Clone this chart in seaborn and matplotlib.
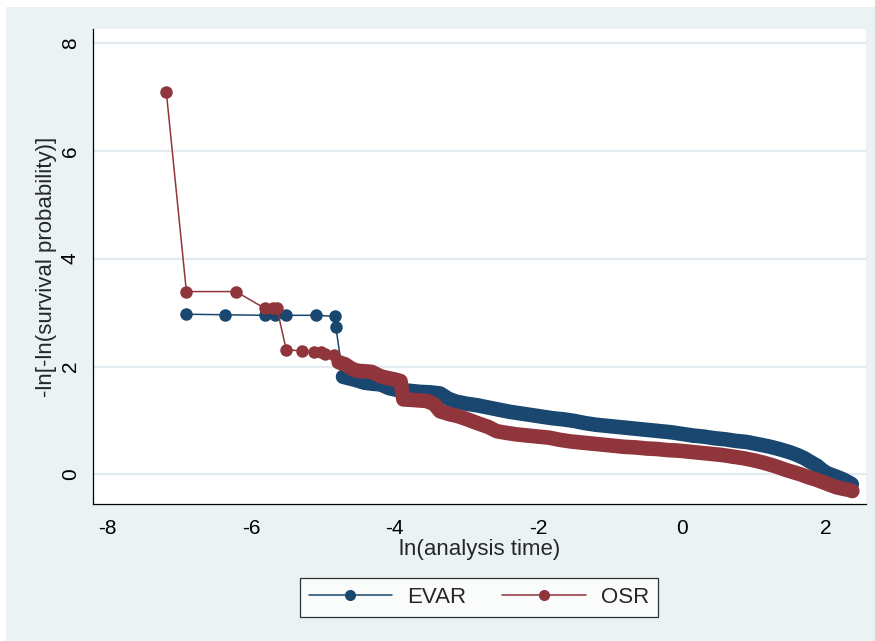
import numpy as np
import pandas as pd
import matplotlib
matplotlib.use("Agg")
import matplotlib.pyplot as plt
from matplotlib.lines import Line2D
from matplotlib.patches import Rectangle
import seaborn as sns

# ln(analysis time) / -ln[-ln(S)], EVAR group
evar_x = [-6.90, -6.36, -5.81, -5.67, -5.51, -5.09, -4.83, -4.82, -4.72, -4.57,
          -4.42, -4.30, -4.20, -4.08, -3.95, -3.80, -3.65, -3.50, -3.37, -3.25,
          -3.15, -3.00, -2.85, -2.70, -2.55, -2.40, -2.25, -2.10, -1.95, -1.80,
          -1.65, -1.50, -1.35, -1.20, -1.05, -0.90, -0.75, -0.60, -0.45, -0.30,
          -0.15, 0.00, 0.15, 0.30, 0.45, 0.60, 0.75, 0.90, 1.05, 1.20,
          1.35, 1.50, 1.60, 1.70, 1.80, 1.88, 1.95, 2.02, 2.10, 2.18,
          2.25, 2.32, 2.36]
evar_y = [2.97, 2.96, 2.95, 2.95, 2.95, 2.95, 2.93, 2.74, 1.81, 1.76,
          1.70, 1.68, 1.67, 1.60, 1.56, 1.55, 1.53, 1.52, 1.50, 1.40,
          1.35, 1.31, 1.28, 1.24, 1.20, 1.16, 1.13, 1.10, 1.07, 1.04,
          1.02, 0.99, 0.95, 0.92, 0.90, 0.88, 0.86, 0.84, 0.82, 0.80,
          0.78, 0.75, 0.72, 0.70, 0.67, 0.65, 0.62, 0.60, 0.56, 0.52,
          0.47, 0.41, 0.36, 0.30, 0.22, 0.16, 0.08, 0.02, -0.02, -0.06,
          -0.10, -0.15, -0.18]

# OSR group
osr_x = [-7.18, -6.90, -6.21, -5.81, -5.70, -5.64, -5.51, -5.29, -5.13, -5.03,
         -4.97, -4.85, -4.78, -4.69, -4.60, -4.52, -4.40, -4.32, -4.20, -4.11,
         -4.00, -3.92, -3.88, -3.75, -3.65, -3.55, -3.45, -3.37, -3.25, -3.12,
         -2.99, -2.85, -2.70, -2.58, -2.45, -2.30, -2.15, -2.00, -1.85, -1.70,
         -1.55, -1.40, -1.25, -1.10, -0.95, -0.80, -0.65, -0.50, -0.35, -0.20,
         -0.05, 0.10, 0.25, 0.40, 0.55, 0.70, 0.85, 1.00, 1.15, 1.30,
         1.45, 1.55, 1.65, 1.75, 1.85, 1.95, 2.05, 2.15, 2.25, 2.33, 2.37]
osr_y = [7.10, 3.39, 3.39, 3.08, 3.08, 3.08, 2.31, 2.29, 2.27, 2.27,
         2.23, 2.21, 2.08, 2.04, 1.96, 1.92, 1.91, 1.90, 1.82, 1.79,
         1.76, 1.73, 1.39, 1.38, 1.37, 1.36, 1.30, 1.17, 1.12, 1.08,
         1.02, 0.95, 0.88, 0.80, 0.77, 0.74, 0.72, 0.70, 0.68, 0.64,
         0.61, 0.59, 0.57, 0.55, 0.53, 0.51, 0.50, 0.48, 0.47, 0.45,
         0.44, 0.42, 0.40, 0.38, 0.36, 0.33, 0.30, 0.26, 0.21, 0.15,
         0.08, 0.04, 0.00, -0.05, -0.09, -0.14, -0.19, -0.24, -0.27, -0.29, -0.31]

groups = ["EVAR", "OSR"]
colors = {"EVAR": "#1a476f", "OSR": "#90353b"}
# where the event times get so dense that the markers merge into a band
dense_from = {"EVAR": 8, "OSR": 12}
x_ticks = [-8, -6, -4, -2, 0, 2]
y_ticks = [0, 2, 4, 6, 8]

sns.set_style("white")
plt.rcParams["font.family"] = ["Liberation Sans", "DejaVu Sans"]

fig = plt.figure(figsize=(8.75, 6.41), dpi=100, facecolor="white")
# stata-like graph region
fig.patches.append(Rectangle((6 / 875, 0), 1, 1 - 7 / 641, transform=fig.transFigure,
                             facecolor="#eaf2f3", edgecolor="none", zorder=-10))
ax = fig.add_axes([93 / 875, 1 - 504 / 641, 773 / 875, 475 / 641])
ax.set_facecolor("white")

series = {"EVAR": (evar_x, evar_y), "OSR": (osr_x, osr_y)}
for g in groups:
    xs, ys = series[g]
    i0 = dense_from[g]
    sns.lineplot(x=xs, y=ys, ax=ax, sort=False, estimator=None, color=colors[g],
                 linewidth=1.1, marker="o", markersize=9, markeredgewidth=0,
                 legend=False)
    # overlapping markers -> solid band
    sns.lineplot(x=xs[i0:], y=ys[i0:], ax=ax, sort=False, estimator=None,
                 color=colors[g], linewidth=10.5, solid_capstyle="round",
                 solid_joinstyle="round", legend=False)

ax.set_xlim(-8.2, 2.56)
ax.set_ylim(-0.55, 8.26)
ax.set_xticks(x_ticks)
ax.set_yticks(y_ticks)
ax.set_xticklabels([str(t) for t in x_ticks])
ax.set_yticklabels([str(t) for t in y_ticks])
ax.grid(axis="y", color="#e3ebee", linewidth=1.6)
ax.grid(axis="x", visible=False)
ax.set_axisbelow(True)

for s in ["top", "right"]:
    ax.spines[s].set_visible(False)
for s in ["left", "bottom"]:
    ax.spines[s].set_color("black")
    ax.spines[s].set_linewidth(0.9)

ax.tick_params(axis="both", direction="out", length=6.5, width=0.9, color="#444444",
               labelsize=15, labelcolor="black")
ax.tick_params(axis="x", pad=4)
ax.tick_params(axis="y", pad=3)
plt.setp(ax.get_yticklabels(), rotation=90, va="center", ha="right")

ax.set_xlabel("ln(analysis time)", fontsize=16)
ax.set_ylabel("-ln[-ln(survival probability)]", fontsize=16)
ax.xaxis.set_label_coords(0.5, -0.073)
ax.yaxis.set_label_coords(-0.047, 0.5)

handles = [Line2D([0], [0], color=colors[g], linewidth=1.1, marker="o", markersize=8,
                  markeredgewidth=0) for g in groups]
leg = fig.legend(handles, groups, loc="center", bbox_to_anchor=(479 / 875, 1 - 597.5 / 641),
                 ncol=2, fontsize=16, frameon=True, fancybox=False, handlelength=3.75,
                 handletextpad=0.7, columnspacing=1.6, borderpad=0.4)
leg.get_frame().set_edgecolor("black")
leg.get_frame().set_linewidth(0.9)
leg.get_frame().set_facecolor("white")

fig.savefig("out.png", dpi=100, facecolor=fig.get_facecolor())
